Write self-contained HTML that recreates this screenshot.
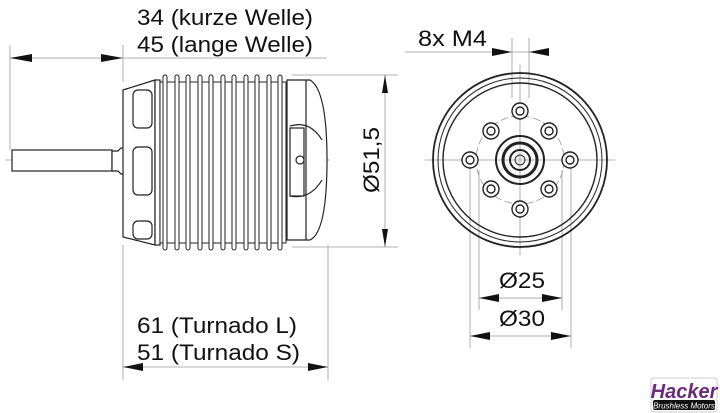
<!DOCTYPE html>
<html><head><meta charset="utf-8"><style>
html,body{margin:0;padding:0;background:#fff;}
svg{display:block;}
text{font-family:"Liberation Sans",sans-serif;fill:#111;}
</style></head><body>
<svg width="720" height="413" viewBox="0 0 720 413" xmlns="http://www.w3.org/2000/svg">
<g stroke="#999" stroke-width="0.8" fill="none">
<line x1="10" y1="45" x2="10" y2="150"/>
<line x1="123" y1="45" x2="123" y2="82"/>
<line x1="10" y1="58" x2="327" y2="58"/>
<line x1="123" y1="245" x2="123" y2="380"/>
<line x1="328" y1="245" x2="328" y2="380"/>
<line x1="123" y1="367" x2="328" y2="367"/>
<line x1="292" y1="75" x2="398" y2="75"/>
<line x1="292" y1="247" x2="398" y2="247"/>
<line x1="385" y1="75" x2="385" y2="247"/>
<line x1="405" y1="52" x2="548" y2="52"/>
<line x1="512" y1="38" x2="512" y2="98"/>
<line x1="529" y1="38" x2="529" y2="98"/>
<line x1="479" y1="170" x2="479" y2="310"/>
<line x1="562" y1="170" x2="562" y2="310"/>
<line x1="470" y1="160" x2="470" y2="348"/>
<line x1="571" y1="160" x2="571" y2="348"/>
<line x1="479" y1="298" x2="562" y2="298"/>
<line x1="470" y1="336" x2="571" y2="336"/>
<line x1="5" y1="160" x2="330" y2="160"/>
<line x1="425" y1="160" x2="615" y2="160"/>
<line x1="520" y1="65" x2="520" y2="255"/>
<circle cx="520" cy="160" r="44" stroke-dasharray="8 3"/>
</g>
<g fill="#111">
<path d="M10,58 l22,-4 v8z"/><path d="M123,58 l-22,-4 v8z"/>
<path d="M123,367 l20,-4 v8z"/><path d="M328,367 l-20,-4 v8z"/>
<path d="M385,75 l-3,18 h6z"/><path d="M385,247 l-3,-18 h6z"/>
<path d="M512,52 l-20,-4 v8z"/><path d="M529,52 l20,-4 v8z"/>
<path d="M479,298 l20,-4 v8z"/><path d="M562,298 l-20,-4 v8z"/>
<path d="M470,336 l20,-4 v8z"/><path d="M571,336 l-20,-4 v8z"/>
</g>
<text x="137" y="25" font-size="22" textLength="176" lengthAdjust="spacingAndGlyphs">34 (kurze Welle)</text>
<text x="137" y="52" font-size="22" textLength="176" lengthAdjust="spacingAndGlyphs">45 (lange Welle)</text>
<text x="137" y="333" font-size="22" textLength="160" lengthAdjust="spacingAndGlyphs">61 (Turnado L)</text>
<text x="137" y="360" font-size="22" textLength="163" lengthAdjust="spacingAndGlyphs">51 (Turnado S)</text>
<text x="418" y="46" font-size="22" textLength="69" lengthAdjust="spacingAndGlyphs">8x M4</text>
<text x="499" y="288" font-size="22" textLength="46" lengthAdjust="spacingAndGlyphs">Ø25</text>
<text x="499" y="326" font-size="22" textLength="46" lengthAdjust="spacingAndGlyphs">Ø30</text>
<text transform="translate(379,193) rotate(-90)" font-size="22" textLength="66" lengthAdjust="spacingAndGlyphs">Ø51,5</text>
<g stroke="#222" stroke-width="1.2" fill="#fff">
<rect x="12" y="150" width="100" height="21"/>
<path d="M112,151 h6 l3,-3 h3 v26 h-3 l-3,-3 h-6z"/>
<path d="M123,90 L155,80 V245 L123,237z"/>
<rect x="133" y="90" width="19" height="38" rx="5"/>
<rect x="133" y="147" width="19" height="48" rx="5"/>
<rect x="133" y="221" width="19" height="18" rx="5"/>
<rect x="155" y="80" width="5" height="165"/>
</g>
<g stroke="#222" stroke-width="1" fill="#fff">
<rect x="160" y="82" width="126" height="161"/>
<rect x="163" y="75" width="4" height="175" rx="2"/>
<rect x="175" y="75" width="4" height="175" rx="2"/>
<rect x="186" y="75" width="4" height="175" rx="2"/>
<rect x="198" y="75" width="4" height="175" rx="2"/>
<rect x="209" y="75" width="4" height="175" rx="2"/>
<rect x="221" y="75" width="4" height="175" rx="2"/>
<rect x="232" y="75" width="4" height="175" rx="2"/>
<rect x="244" y="75" width="4" height="175" rx="2"/>
<rect x="255" y="75" width="4" height="175" rx="2"/>
<rect x="267" y="75" width="4" height="175" rx="2"/>
<rect x="278" y="75" width="4" height="175" rx="2"/>
</g>
<g stroke="#222" stroke-width="1.2" fill="#fff">
<path d="M287,80 H310 Q327,90 327,160 Q327,232 310,240 H287z"/>
<line x1="306" y1="80" x2="306" y2="240"/>
<path d="M290,126 Q310,120 322,140 M290,196 Q310,200 322,180" fill="none"/>
<rect x="290" y="128" width="14" height="68" fill="none"/>
<circle cx="300" cy="160" r="4"/>
</g>
<g stroke="#222" fill="none">
<circle cx="520" cy="160" r="87" stroke-width="1.8"/>
<circle cx="520" cy="160" r="82" stroke-width="1"/>
<circle cx="520" cy="160" r="77" stroke-width="1.4"/>
<circle cx="520" cy="160" r="24" stroke-width="2"/>
<circle cx="520" cy="160" r="17" stroke-width="3"/>
<circle cx="520" cy="160" r="10" stroke-width="2"/>
<circle cx="520" cy="160" r="5" stroke-width="1"/>
</g>
<g stroke="#222" stroke-width="1.4" fill="#fff">
<circle cx="520" cy="111" r="8"/><circle cx="520" cy="111" r="4"/>
<circle cx="520" cy="209" r="8"/><circle cx="520" cy="209" r="4"/>
<circle cx="470" cy="160" r="8"/><circle cx="470" cy="160" r="4"/>
<circle cx="570" cy="160" r="8"/><circle cx="570" cy="160" r="4"/>
<circle cx="491" cy="131" r="8"/><circle cx="491" cy="131" r="4"/>
<circle cx="549" cy="131" r="8"/><circle cx="549" cy="131" r="4"/>
<circle cx="491" cy="189" r="8"/><circle cx="491" cy="189" r="4"/>
<circle cx="549" cy="189" r="8"/><circle cx="549" cy="189" r="4"/>
</g>
<rect x="651" y="378" width="66" height="34" rx="3" fill="#fff" stroke="#ccc"/>
<text x="684" y="398" font-size="20" font-weight="bold" font-style="italic" text-anchor="middle" style="fill:#6b2a7a">Hacker</text>
<rect x="653" y="400" width="62" height="10" rx="2" fill="#111"/>
<text x="684" y="408.5" font-size="8" font-style="italic" text-anchor="middle" style="fill:#fff">Brushless Motors</text>
</svg>
</body></html>
